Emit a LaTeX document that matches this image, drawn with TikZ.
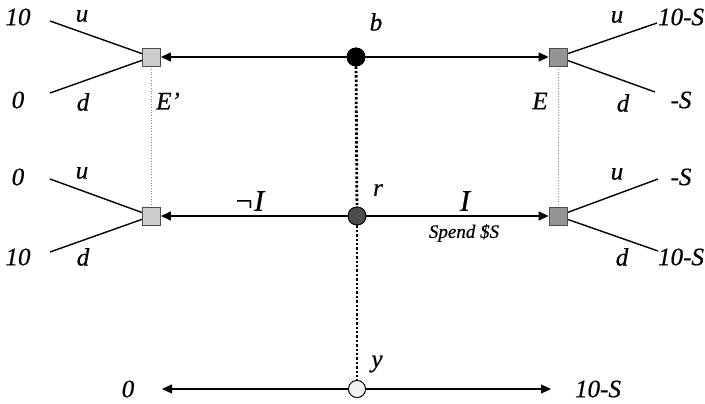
\documentclass[tikz,border=0pt]{standalone}
\usepackage{fontspec}
\setmainfont{Liberation Serif}
\newfontfamily\labfont{Liberation Serif}[ItalicFeatures={FakeBold=0.6}]
\usetikzlibrary{arrows.meta}
\begin{document}
\begin{tikzpicture}[x=1pt,y=-1pt,
  lbl/.style={font=\fontsize{25}{28}\labfont\itshape, inner sep=0pt},
  small/.style={font=\fontsize{19}{22}\labfont\itshape, inner sep=0pt},
  big/.style={font=\fontsize{30}{33}\labfont\itshape, inner sep=0pt},
  sqL/.style={draw=black!70, fill=black!20, minimum size=18pt, inner sep=0pt, line width=0.8pt},
  sqR/.style={draw=black!70, fill=black!42, minimum size=18pt, inner sep=0pt, line width=0.8pt},
  dot/.style={circle, draw=black, minimum size=18pt, inner sep=0pt, line width=0.8pt},
  arr/.style={line width=1.1pt, -{Triangle[length=10pt,width=9pt]}},
  branch/.style={line width=1.4pt},
  info/.style={line width=0.7pt, black!45, dotted},
  chance/.style={line width=2.8pt, dash pattern=on 2.4pt off 2pt}]
\useasboundingbox (0,0) rectangle (705,404);
% nodes
\node[dot, fill=black] (b) at (356,57) {};
\node[dot, fill=black!70] (r) at (357,216) {};
\node[dot, fill=black!5, minimum size=17pt] (y) at (357,389) {};
\node[sqL] (L1) at (151.5,57) {};
\node[sqL] (L2) at (151.5,216) {};
\node[sqR] (R1) at (558,57) {};
\node[sqR] (R2) at (558,216) {};
% branch ends
\coordinate (L1u) at (50,21);
\coordinate (L1d) at (50,93);
\coordinate (L2u) at (50,179);
\coordinate (L2d) at (50,252);
\coordinate (R1u) at (657,23);
\coordinate (R1d) at (655,92);
\coordinate (R2u) at (658,179);
\coordinate (R2d) at (658,251);
\coordinate (y0) at (162,389);
\coordinate (y1) at (551,389);
% chance line
\draw[chance] (b) -- (r);
\draw[chance] (r) -- (y);
% info sets
\draw[info] (L1) -- (L2);
\draw[info] (R1) -- (R2);
% arrows
\draw[arr] (b) -- (L1);
\draw[arr] (b) -- (R1);
\draw[arr] (r) -- (L2);
\draw[arr] (r) -- (R2);
\draw[arr] (y) -- (y0);
\draw[arr] (y) -- (y1);
% branches
\draw[branch] (L1) -- (L1u);
\draw[branch] (L1) -- (L1d);
\draw[branch] (L2) -- (L2u);
\draw[branch] (L2) -- (L2d);
\draw[branch] (R1) -- (R1u);
\draw[branch] (R1) -- (R1d);
\draw[branch] (R2) -- (R2u);
\draw[branch] (R2) -- (R2d);
% redraw nodes on top
\node[dot, fill=black] at (b) {};
\node[dot, fill=black!70] at (r) {};
\node[dot, fill=black!5, minimum size=17pt] at (y) {};
\node[sqL] at (L1) {};
\node[sqL] at (L2) {};
\node[sqR] at (R1) {};
\node[sqR] at (R2) {};
% labels
\node[lbl] (tb) at (376,22) {b};
\node[lbl] (tr) at (378,190) {r};
\node[lbl] (ty) at (377,364) {y};
\node[big] (tnI) at (249,201) {¬I};
\node[big] (tI) at (465,201) {I};
\node[small] (tS) at (464,233) {Spend \$S};
\node[lbl] (tEp) at (168,101) {E’};
\node[lbl] (tE) at (540,101) {E};
% left top
\node[lbl] (a1) at (18,17) {10};
\node[lbl] (a2) at (18,100) {0};
\node[lbl] (a3) at (82,16) {u};
\node[lbl] (a4) at (83,102) {d};
% left bottom
\node[lbl] (c1) at (18,177) {0};
\node[lbl] (c2) at (18,257) {10};
\node[lbl] (c3) at (82,173) {u};
\node[lbl] (c4) at (83,257) {d};
% right top
\node[lbl] (e1) at (681,17) {10-S};
\node[lbl] (e2) at (681,100) {-S};
\node[lbl] (e3) at (617,17) {u};
\node[lbl] (e4) at (623,103) {d};
% right bottom
\node[lbl] (f1) at (681,177) {-S};
\node[lbl] (f2) at (681,257) {10-S};
\node[lbl] (f3) at (617,174) {u};
\node[lbl] (f4) at (622,257) {d};
% bottom
\node[lbl] (g1) at (128,389) {0};
\node[lbl] (g2) at (598,389) {10-S};
\end{tikzpicture}
\end{document}
